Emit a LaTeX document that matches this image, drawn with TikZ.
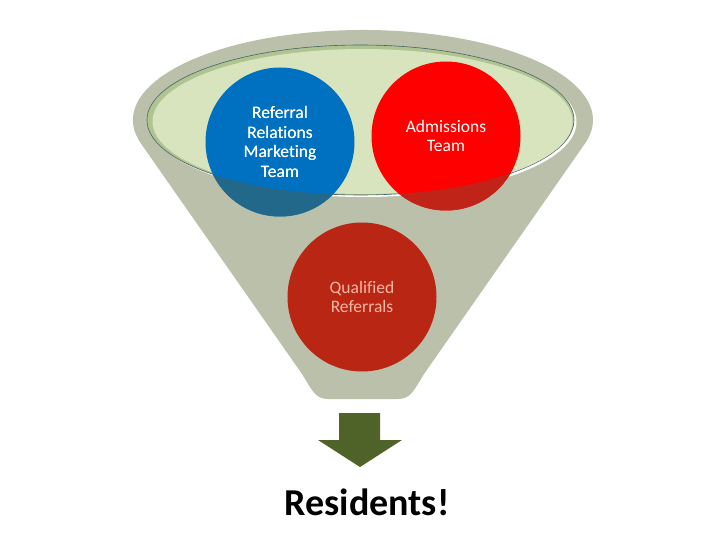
\documentclass[tikz,border=0pt]{standalone}
\usepackage{fontspec}
\setmainfont{Carlito}[Ligatures={NoCommon}]
\definecolor{funnelc}{RGB}{186,192,170}
\definecolor{innerc}{RGB}{216,228,190}
\definecolor{bandc}{RGB}{176,196,146}
\definecolor{rimc}{RGB}{70,100,100}
\definecolor{bluec}{RGB}{0,112,192}
\definecolor{bluedk}{RGB}{33,104,138}
\definecolor{redc}{RGB}{255,0,0}
\definecolor{reddk}{RGB}{192,36,24}
\definecolor{midc}{RGB}{186,38,20}
\definecolor{salmon}{RGB}{244,184,164}
\definecolor{arrowc}{RGB}{79,98,40}
\begin{document}
\begin{tikzpicture}[x=1pt,y=-1pt,
  circ/.style={circle,minimum size=149pt,inner sep=0pt,align=center,
    font=\fontsize{17.5}{19.5}\selectfont}]
\useasboundingbox (0,0) rectangle (720,540);
% funnel body
\fill[funnelc] (140.8,143.3) arc[start angle=165,end angle=375,x radius=230,y radius=90]
  -- (424,374) .. controls (413,392) and (410,399) .. (398,399) -- (328,399)
  .. controls (316,399) and (313,392) .. (302,374) -- cycle;
% funnel opening
\fill[white] (363,122) ellipse[x radius=213.5,y radius=75];
\filldraw[fill=bandc,draw=rimc,line width=0.6pt] (360.5,120) ellipse[x radius=213.5,y radius=75];
\fill[innerc] (362.5,121.5) ellipse[x radius=210,y radius=72.5];
% circles
\node[circ,fill=bluec,text=white] (ref) at (280,142) {Referral\\Relations\\Marketing\\Team};
\begin{scope}
  \clip (ref.center) circle[radius=74.5];
  \fill[bluedk,even odd rule] (0,0) rectangle (720,540) (360.5,120) ellipse[x radius=213.5,y radius=75];
\end{scope}
\node[circ,text=white] at (ref.center) {Referral\\Relations\\Marketing\\Team};
\node[circ,fill=redc,text=white] (adm) at (446,136) {Admissions\\Team};
\begin{scope}
  \clip (adm.center) circle[radius=74.5];
  \fill[reddk,even odd rule] (0,0) rectangle (720,540) (360.5,120) ellipse[x radius=213.5,y radius=75];
\end{scope}
\node[circ,fill=midc,text=salmon] (qual) at (362,297) {Qualified\\Referrals};
% arrow
\coordinate (tip) at (360,467);
\fill[arrowc] (339,413) -- (380,413) -- (380,440) -- (402,440) -- (tip) -- (318,440) -- (339,440) -- cycle;
\node[anchor=base,inner sep=0pt,font=\bfseries\fontsize{38}{44}\selectfont] (res) at (367,515) {Residents!};
\end{tikzpicture}
\end{document}
